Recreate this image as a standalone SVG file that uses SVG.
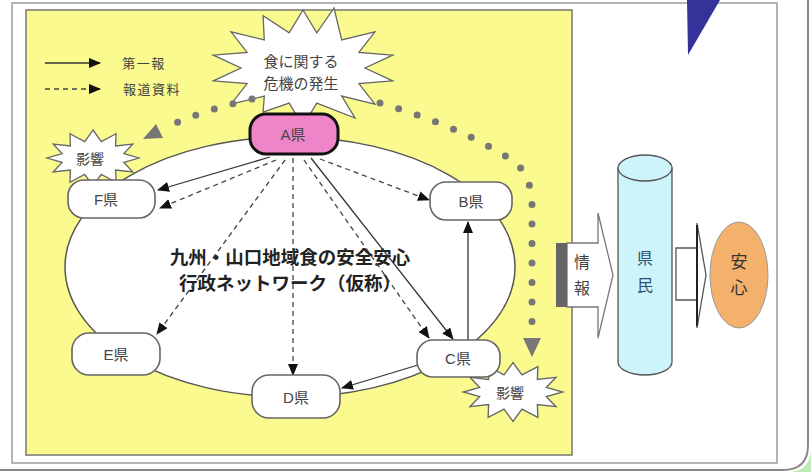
<svg xmlns="http://www.w3.org/2000/svg" width="811" height="472" viewBox="0 0 811 472">
<style>
text{font-family:"Liberation Sans","Noto Sans CJK JP",sans-serif;fill:#444;text-anchor:middle;dominant-baseline:central}
.node{fill:#fff;stroke:#666;stroke-width:1.6}
.burst{fill:#fff;stroke:#666;stroke-width:1.3}
.lbl{font-size:15px}
.solid{stroke:#333;stroke-width:1.3;fill:none}
.dash{stroke:#444;stroke-width:1.3;fill:none;stroke-dasharray:5 4}
.dots{stroke:#777;stroke-width:7;fill:none;stroke-linecap:round;stroke-dasharray:0 19.5}
</style>
<defs>
<marker id="ah" markerUnits="userSpaceOnUse" markerWidth="12" markerHeight="10" refX="11" refY="5" orient="auto">
<path d="M0,0 L12,5 L0,10 Z" fill="#111"/>
</marker>
<polygon id="star" points="0,-28 8.3,-16.4 23,-24.2 22.6,-12 39.8,-14 30.9,-4.4 46,0 30.9,4.4 39.8,14 22.6,12 23,24.2 8.3,16.4 0,28 -8.3,16.4 -23,24.2 -22.6,12 -39.8,14 -30.9,4.4 -46,0 -30.9,-4.4 -39.8,-14 -22.6,-12 -23,-24.2 -8.3,-16.4"/>
</defs>
<rect width="811" height="472" fill="#fff"/>
<path d="M790,472 L811,472 L811,450 Q810,470 790,472 Z" fill="#bfeab5"/>
<path d="M-10,-10 L808,-10 L808,445 Q808,470 783,470 L-10,470" fill="none" stroke="#888" stroke-width="2"/>
<rect x="12" y="3" width="765" height="460" fill="#fff" stroke="#9a9a9a" stroke-width="1.5"/>
<polygon points="687,0 720,0 688,55" fill="#333399"/>
<rect x="26" y="10" width="546" height="445" fill="#fafa8e" stroke="#777" stroke-width="1.5"/>

<g id="legend">
<line x1="45" y1="63" x2="100" y2="63" class="solid" marker-end="url(#ah)"/>
<line x1="45" y1="89" x2="100" y2="89" class="dash" marker-end="url(#ah)"/>
<text x="144" y="63" style="font-size:13px;letter-spacing:1.5px">第一報</text>
<text x="152" y="89" style="font-size:13px;letter-spacing:1.5px">報道資料</text>
</g>

<g id="crisis">
<polygon class="burst" points="303,10 316.8,32.9 334,8 341.7,39.9 374.9,31.8 358.9,52.4 392.7,55.1 365,68 392.7,80.9 358.9,83.6 374.9,104.2 341.7,96.1 355,118 316.8,103.1 303,126 289.2,103.1 263.1,112 264.3,96.1 231.1,104.2 247.1,83.6 213.3,80.9 241,68 213.3,55.1 247.1,52.4 231.1,31.8 264.3,39.9 263.1,15.7 289.2,32.9"/>
<text x="301" y="61" style="font-size:15px">食に関する</text>
<text x="301" y="83" style="font-size:15px">危機の発生</text>
</g>

<g id="network">
<ellipse cx="290" cy="267" rx="225" ry="130" fill="#fff" stroke="#555" stroke-width="1.5"/>
<text x="290" y="257" style="font-size:18.5px;font-weight:bold;fill:#222">九州・山口地域食の安全安心</text>
<text x="290" y="283" style="font-size:18.5px;font-weight:bold;fill:#222">行政ネットワーク（仮称）</text>
</g>

<g id="effects">
<g id="effect-left"><use href="#star" class="burst" transform="translate(93,158)"/><text x="90" y="159" style="font-size:14px">影響</text></g>
<g id="effect-right"><use href="#star" class="burst" transform="translate(513,392) scale(1.08,1.05)"/><text x="510" y="393" style="font-size:14px">影響</text></g>
</g>

<g id="connectors">
<path class="dots" d="M252,99 Q212,108 176,123"/>
<polygon points="143,139 156,124 163,138" fill="#777"/>
<path class="dots" d="M380,103 Q465,128 516,163 Q532,178 532,205 L532,330"/>
<polygon points="523,338 541,338 532,357" fill="#777"/>
<line x1="270" y1="157" x2="158" y2="190" class="solid" marker-end="url(#ah)"/>
<line x1="276" y1="160" x2="160" y2="208" class="dash" marker-end="url(#ah)"/>
<line x1="320" y1="159" x2="429" y2="200" class="dash" marker-end="url(#ah)"/>
<line x1="285" y1="160" x2="157" y2="334" class="dash" marker-end="url(#ah)"/>
<line x1="293" y1="158" x2="293" y2="375" class="dash" marker-end="url(#ah)"/>
<line x1="304" y1="160" x2="429" y2="338" class="dash" marker-end="url(#ah)"/>
<line x1="311" y1="158" x2="453" y2="339" class="solid" marker-end="url(#ah)"/>
<line x1="468" y1="340" x2="468" y2="222" class="solid" marker-end="url(#ah)"/>
<line x1="418" y1="365" x2="342" y2="388" class="solid" marker-end="url(#ah)"/>
</g>

<g id="node-A"><rect x="250" y="114" width="88" height="40" rx="16" fill="#ef85c9" stroke="#111" stroke-width="3"/><text x="293" y="134" class="lbl">A県</text></g>
<g id="node-B"><rect x="430" y="182" width="82" height="38" rx="16" class="node"/><text x="471" y="201" class="lbl">B県</text></g>
<g id="node-C"><rect x="417" y="340" width="83" height="37" rx="16" class="node"/><text x="458" y="358" class="lbl">C県</text></g>
<g id="node-D"><rect x="252" y="375" width="88" height="43" rx="17" class="node"/><text x="296" y="397" class="lbl">D県</text></g>
<g id="node-E"><rect x="72" y="333" width="88" height="42" rx="17" class="node"/><text x="116" y="354" class="lbl">E県</text></g>
<g id="node-F"><rect x="68" y="180" width="87" height="38" rx="16" class="node"/><text x="106" y="199" class="lbl">F県</text></g>

<g id="info-arrow">
<polygon points="567,243 598,243 598,213 613,275 598,338 598,307 567,307" fill="#fff" stroke="#777" stroke-width="1.3"/>
<rect x="556" y="243" width="11" height="64" fill="#666"/>
<text x="582" y="262" style="font-size:16px">情</text>
<text x="582" y="288" style="font-size:16px">報</text>
</g>

<g id="citizens">
<path d="M618,168 L618,362 A27,13 0 0 0 672,362 L672,168 Z" fill="#cdf4fa" stroke="#555" stroke-width="1.3"/>
<ellipse cx="645" cy="168" rx="27" ry="13" fill="#cdf4fa" stroke="#555" stroke-width="1.3"/>
<text x="645" y="258" style="font-size:16px;fill:#2f4f6f">県</text>
<text x="645" y="285" style="font-size:16px;fill:#2f4f6f">民</text>
</g>

<g id="relief-arrow">
<polygon points="676,248 697,248 697,223 706,275 697,328 697,300 676,300" fill="#fff" stroke="#555" stroke-width="1.3"/>
<line x1="697" y1="225" x2="697" y2="326" stroke="#222" stroke-width="2"/>
</g>

<g id="relief">
<ellipse cx="739" cy="275" rx="29" ry="53" fill="#f3b16c" stroke="#999" stroke-width="1"/>
<text x="739" y="262" style="font-size:17px;fill:#333">安</text>
<text x="739" y="288" style="font-size:17px;fill:#333">心</text>
</g>
</svg>
